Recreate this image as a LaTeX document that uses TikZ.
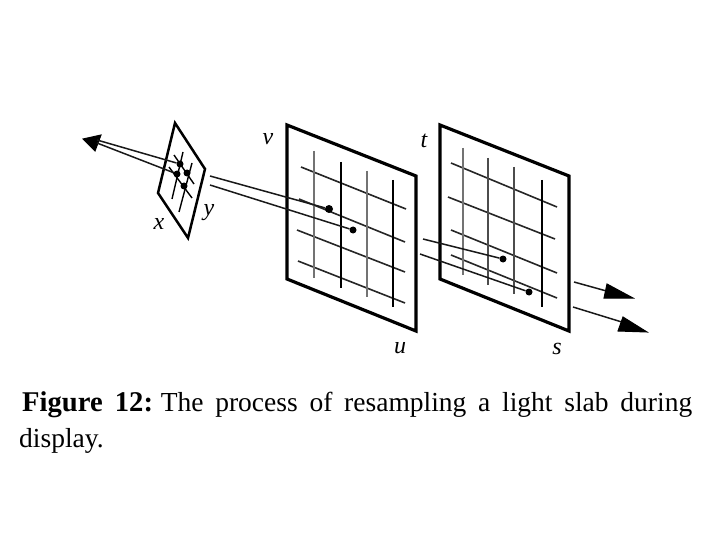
\documentclass[tikz,border=0pt]{standalone}
\usepackage{fontspec}
\setmainfont{Liberation Serif}
\tikzset{
  panel/.style={draw=black,line width=3.2pt,line join=miter,fill=white},
  small/.style={draw=black,line width=2.5pt,line join=miter,fill=white},
  hline/.style={draw=black!85,line width=1.6pt},
  vblack/.style={draw=black,line width=2.1pt},
  vthin/.style={draw=black,line width=1.5pt},
  vgray/.style={draw=black!55,line width=2.8pt},
  vdark/.style={draw=black!70,line width=2.2pt},
  mini/.style={draw=black,line width=1.4pt},
  ray/.style={draw=black!90,line width=1.5pt},
  dot/.style={circle,fill=black,inner sep=0pt,minimum size=7pt},
  bigdot/.style={circle,fill=black,inner sep=0pt,minimum size=8pt},
  head/.style={fill=black,draw=black,line width=1pt,line join=miter},
  lab/.style={font=\itshape\fontsize{24}{26}\selectfont,inner sep=0pt},
}
\begin{document}
\begin{tikzpicture}[x=1pt,y=-1pt]
\useasboundingbox[fill=white] (0,0) rectangle (720,540);
% small xy plane
\path[small] (175,123) -- (205,169) -- (188,238) -- (158,193) -- cycle;
\draw[mini] (183,152) -- (172,199);
\draw[mini] (192,163) -- (179,212);
\draw[mini] (174,155) -- (194,184);
\draw[mini] (169,167) -- (192,198);
\node[dot] (pa) at (180,164) {};
\node[dot] (pb) at (177,174) {};
\node[dot] (pc) at (187,173) {};
\node[dot] (pd) at (184,186) {};
% left arrow
\coordinate (tipL) at (83,139);
\coordinate (ha) at (97,140);
\coordinate (hb) at (97,143);
\path[head] (tipL) -- (101,135) -- (98,143) -- (95,151) -- cycle;
\draw[ray] (ha) -- (pa);
\draw[ray] (hb) -- (pb);
% uv panel
\path[panel] (287,125) -- (416,176) -- (416,331) -- (287,279) -- cycle;
\draw[hline] (301,167) -- (406,209);
\draw[hline] (299,199) -- (405,242);
\draw[hline] (297,230) -- (405,272);
\draw[hline] (298,261) -- (405,303);
\draw[vgray] (314,151) -- (314,278);
\draw[vblack] (341,162) -- (341,288);
\draw[vgray] (367,171) -- (367,297);
\draw[vthin] (393,180) -- (393,307);
\node[bigdot] (ua) at (329,209) {};
\node[dot] (ub) at (353,230) {};
\coordinate (ra) at (210,176);
\coordinate (rb) at (210,185);
\draw[ray] (ra) -- (ua);
\draw[ray] (rb) -- (ub);
% st panel
\path[panel] (440,125) -- (569,176) -- (569,331) -- (440,279) -- cycle;
\draw[hline] (451,163) -- (557,207);
\draw[hline] (448,197) -- (555,239);
\draw[hline] (451,230) -- (557,273);
\draw[hline] (451,255) -- (557,298);
\draw[vgray] (463,148) -- (463,275);
\draw[vdark] (488,158) -- (488,285);
\draw[vdark] (514,167) -- (514,294);
\draw[vblack] (542,180) -- (542,307);
\node[dot] (sa) at (503,259) {};
\node[dot] (sb) at (529,292) {};
\coordinate (rc) at (423,239);
\coordinate (rd) at (420,254);
\draw[ray] (rc) -- (sa);
\draw[ray] (rd) -- (sb);
% right arrows
\coordinate (re) at (574,282);
\coordinate (rf) at (573,307);
\coordinate (tipA) at (633,298);
\coordinate (tipB) at (647,332);
\draw[ray] (re) -- (610,292);
\draw[ray] (rf) -- (625,323);
\path[head] (tipA) -- (607,284) -- (604,298) -- cycle;
\path[head] (tipB) -- (623,317) -- (618,331) -- cycle;
% labels
\node[lab] (lv) at (268,139) {v};
\node[lab] (lt) at (424,141) {t};
\node[lab] (lx) at (159,224) {x};
\node[lab] (ly) at (209,213) {y};
\node[lab] (lu) at (400,348) {u};
\node[lab] (ls) at (557,349) {s};
% caption
\node[anchor=base west,inner sep=0pt,font=\fontsize{27.5}{35}\selectfont] (capa) at (22,411)
  {\makebox[670pt][s]{\fontsize{28.6}{35}\selectfont\textbf{Figure 12:}\hspace{-4pt}\fontsize{27.5}{35}\selectfont\ The process of resampling a light slab during}};
\node[anchor=base west,inner sep=0pt,font=\fontsize{27.5}{35}\selectfont] (capb) at (19,447) {display.};
\end{tikzpicture}
\end{document}
